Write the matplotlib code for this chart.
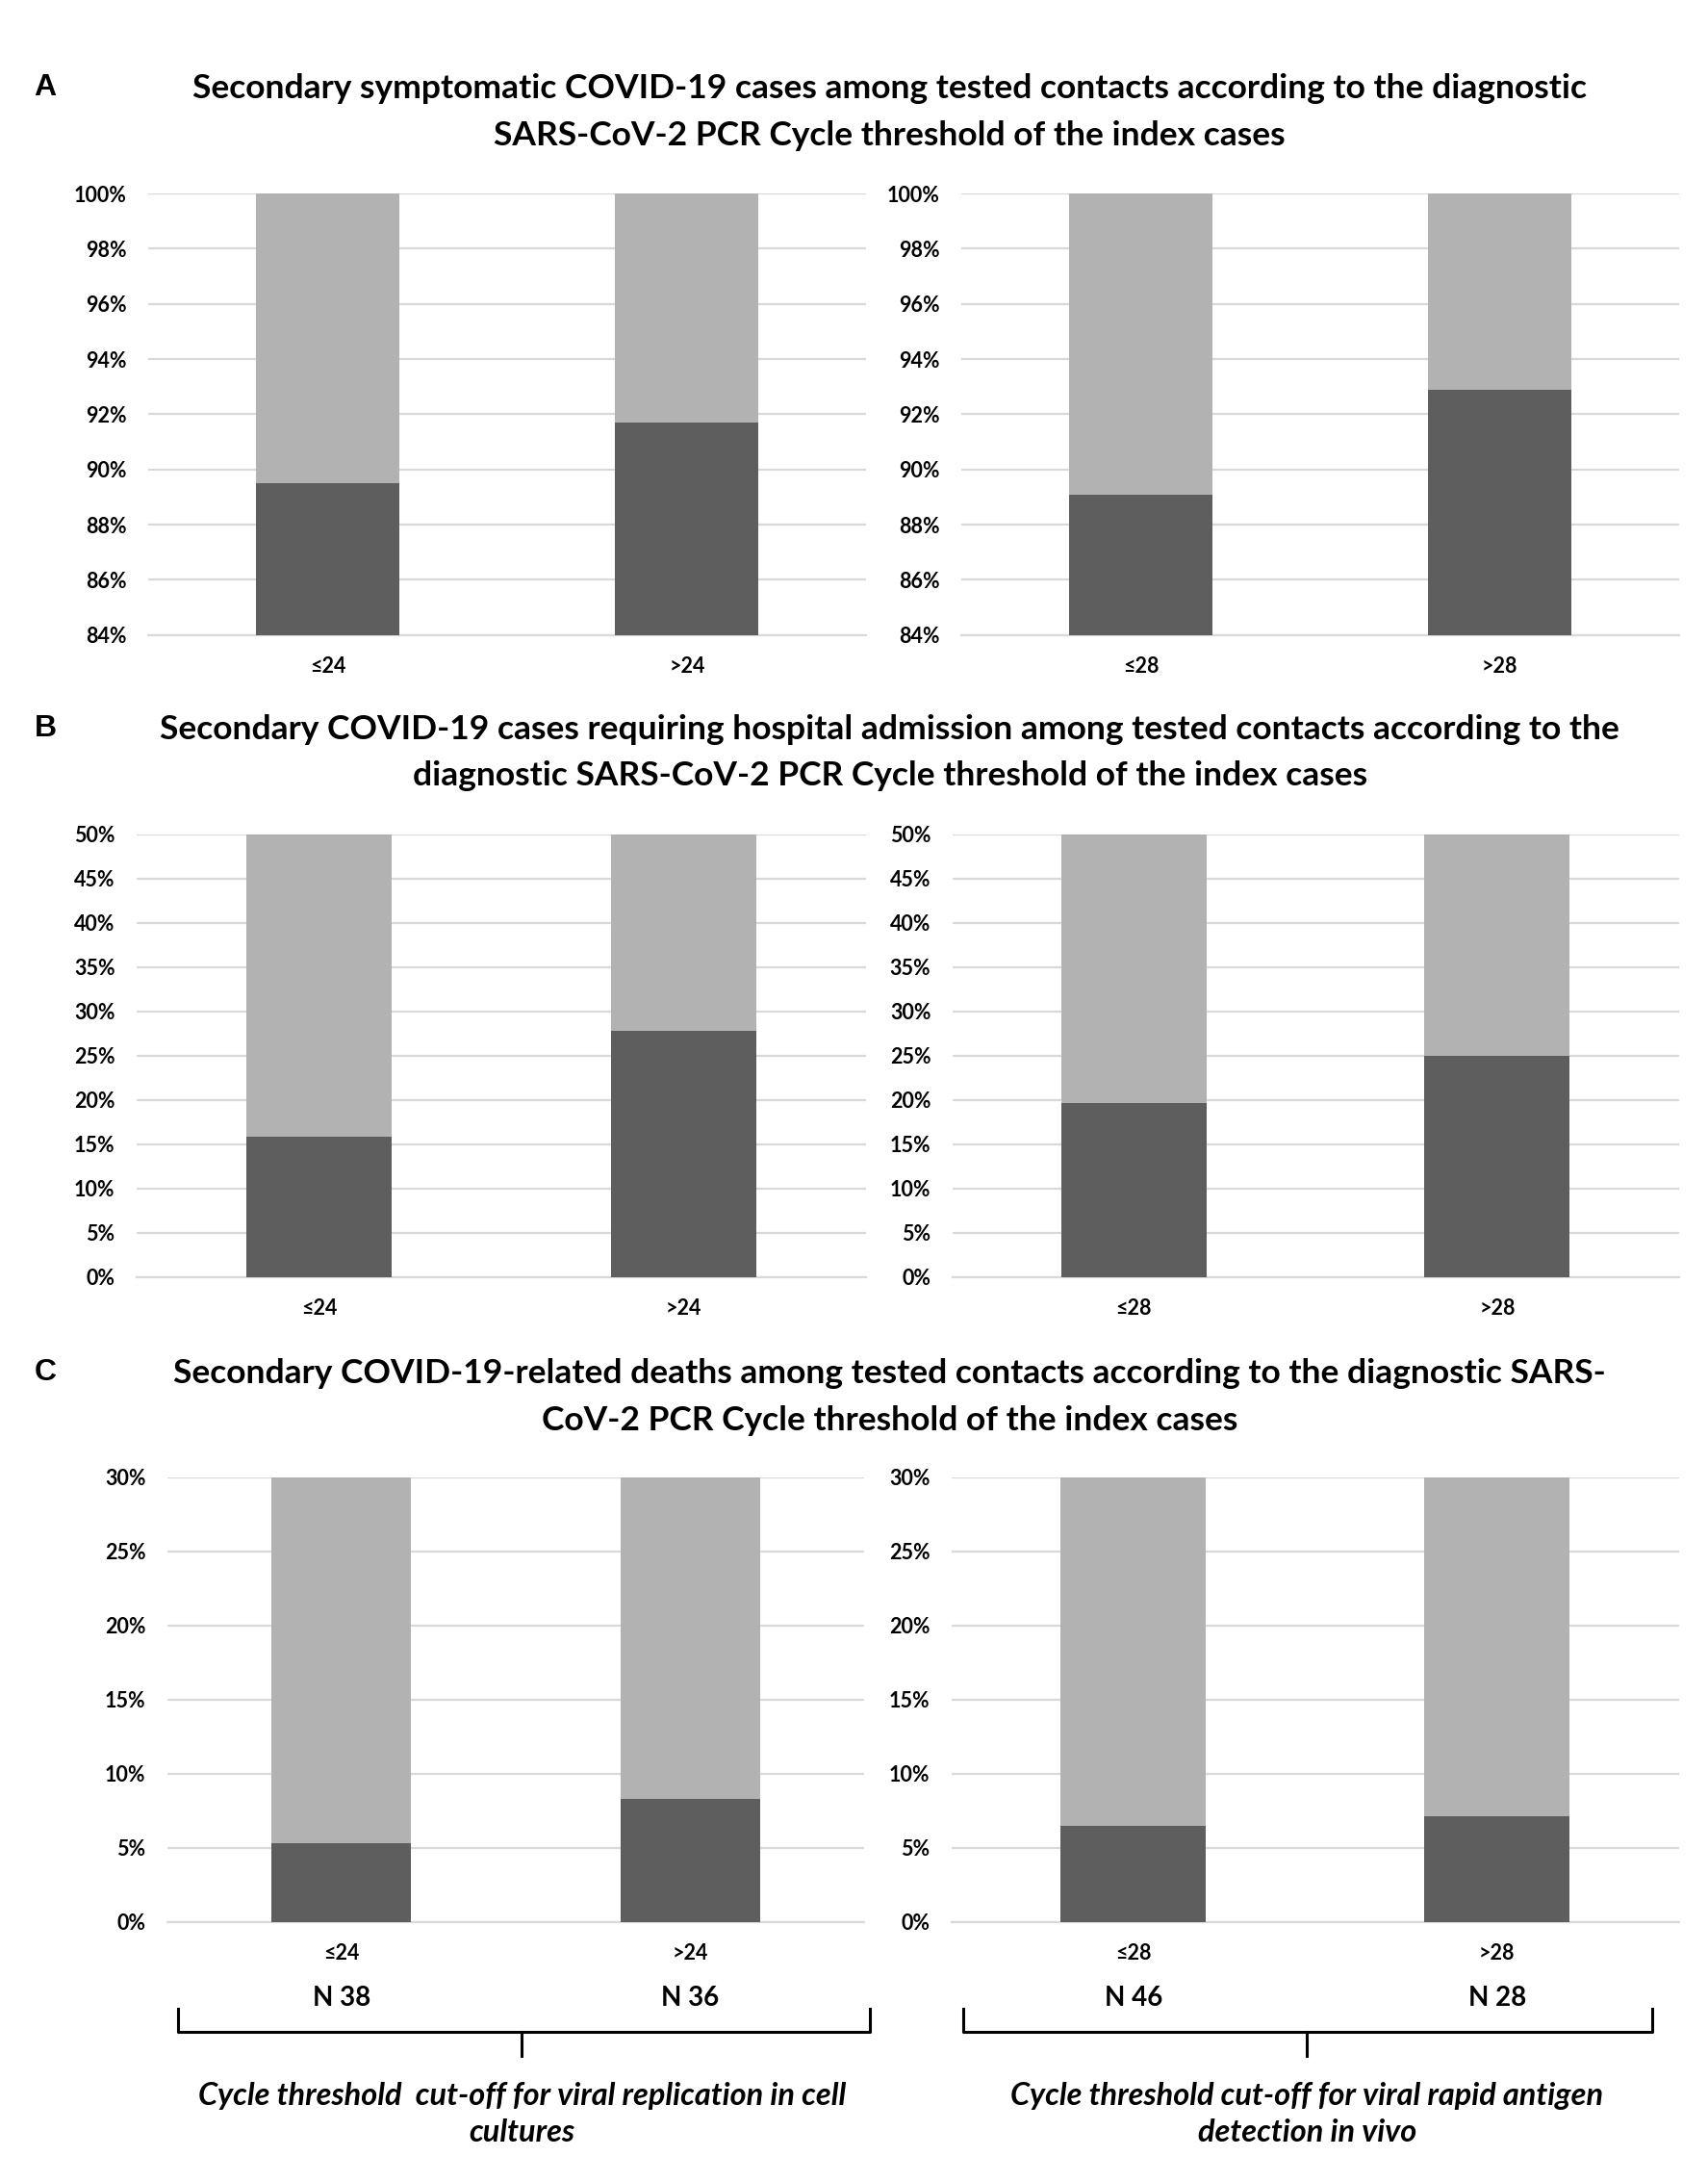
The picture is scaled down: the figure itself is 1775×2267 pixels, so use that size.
import matplotlib.pyplot as plt
from matplotlib.lines import Line2D

plt.rcParams['font.family'] = ['Lato', 'DejaVu Sans']

# ---- data (percent of tested contacts) ----
cats_24 = ["≤24", ">24"]
cats_28 = ["≤28", ">28"]
n_24 = ["N 38", "N 36"]
n_28 = ["N 46", "N 28"]

symptomatic_24 = [89.5, 91.7]
symptomatic_28 = [89.1, 92.9]
hospital_24 = [15.8, 27.8]
hospital_28 = [19.6, 25.0]
deaths_24 = [5.3, 8.3]
deaths_28 = [6.5, 7.1]

titles = [
    "Secondary symptomatic COVID-19 cases among tested contacts according to the diagnostic\n"
    "SARS-CoV-2 PCR Cycle threshold of the index cases",
    "Secondary COVID-19 cases requiring hospital admission among tested contacts according to the\n"
    "diagnostic SARS-CoV-2 PCR Cycle threshold of the index cases",
    "Secondary COVID-19-related deaths among tested contacts according to the diagnostic SARS-\n"
    "CoV-2 PCR Cycle threshold of the index cases",
]
letters = ["A", "B", "C"]
bottom_notes = ["Cycle threshold  cut-off for viral replication in cell\ncultures",
                "Cycle threshold cut-off for viral rapid antigen\ndetection in vivo"]

DARK = "#5e5e5e"
LIGHT = "#b2b2b2"
GRID = "#d9d9d9"

fig = plt.figure(figsize=(17.75, 22.67), dpi=100)

# rows: (ymin, ymax, ticks, left data, right data, axes y0, axes h, left x, right x)
rows = [
    (84, 100, range(84, 101, 2), symptomatic_24, symptomatic_28, 0.709, 0.2023,
     (0.0868, 0.4205), (0.5628, 0.4205)),
    (0, 50, range(0, 51, 5), hospital_24, hospital_28, 0.4148, 0.2029,
     (0.0799, 0.4271), (0.5575, 0.4254)),
    (0, 30, range(0, 31, 5), deaths_24, deaths_28, 0.1193, 0.2036,
     (0.0978, 0.4083), (0.5570, 0.4259)),
]

axes_c = []
for r, (ymin, ymax, ticks, dleft, dright, y0, h, xl, xr) in enumerate(rows):
    for (x0, w), vals, cats in [(xl, dleft, cats_24), (xr, dright, cats_28)]:
        ax = fig.add_axes([x0, y0, w, h])
        xs = range(len(cats))
        ax.bar(xs, vals, width=0.4, color=DARK, zorder=3)
        ax.bar(xs, [100 - v for v in vals], bottom=vals, width=0.4, color=LIGHT, zorder=3)
        ax.set_ylim(ymin, ymax)
        ax.set_xlim(-0.5, 1.5)
        ax.set_yticks(list(ticks))
        ax.set_yticklabels([f"{t}%" for t in ticks], fontsize=15.5, fontweight="bold")
        ax.set_xticks(list(xs))
        ax.set_xticklabels(cats, fontsize=15.5, fontweight="bold")
        ax.tick_params(axis="y", length=0, pad=16)
        ax.tick_params(axis="x", length=0, pad=16)
        ax.grid(axis="y", color=GRID, linewidth=1.6, zorder=0)
        for s in ["top", "right", "left"]:
            ax.spines[s].set_visible(False)
        ax.spines["bottom"].set_color(GRID)
        ax.spines["bottom"].set_linewidth(1.6)
        if r == 2:
            axes_c.append((ax, cats))

    ty = [0.9604, 0.6669, 0.3714][r]
    fig.text(0.521, ty + 0.006, titles[r], ha="center", va="top", fontsize=25.5,
             fontweight="bold", linespacing=1.65)
    fig.text(0.020, ty + 0.006, letters[r], ha="left", va="top", fontsize=23,
             fontweight="bold", family=["Liberation Sans", "DejaVu Sans"])

# N labels under panel C bars
for (ax, cats), ns in zip(axes_c, [n_24, n_28]):
    for i, n in enumerate(ns):
        ax.annotate(n, xy=(i, 0.0842), xycoords=("data", "figure fraction"),
                    ha="center", va="center", fontsize=20, fontweight="bold")

# braces
def brace(x0, x1, xm, ytop, ybase, ybot):
    pts_x = [x0, x0, x1, x1]
    pts_y = [ytop, ybase, ybase, ytop]
    fig.add_artist(Line2D(pts_x, pts_y, color="black", linewidth=2.2))
    fig.add_artist(Line2D([xm, xm], [ybase, ybot], color="black", linewidth=2.2))

brace(0.1043, 0.5094, 0.3056, 0.0794, 0.0689, 0.0580)
brace(0.5640, 0.9674, 0.7653, 0.0794, 0.0689, 0.0580)

for xm, note in zip([0.3056, 0.7653], bottom_notes):
    fig.text(xm, 0.0310, note, ha="center", va="center", fontsize=23.4,
             fontweight="bold", style="italic", linespacing=1.38)

plt.savefig("out.png", dpi=100)
plt.close()
